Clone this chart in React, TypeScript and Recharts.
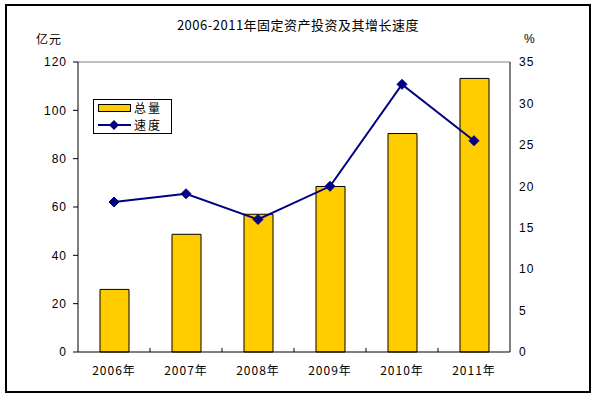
import React from 'react';
import { ComposedChart, Bar, Line, XAxis, YAxis, ReferenceLine } from 'recharts';

const years = ['2006年', '2007年', '2008年', '2009年', '2010年', '2011年'];
const totals = [25.9, 48.7, 57.0, 68.5, 90.4, 113.2];
const speeds = [18.1, 19.1, 16.0, 20.0, 32.3, 25.5];
const leftTicks = [0, 20, 40, 60, 80, 100, 120];
const rightTicks = [0, 5, 10, 15, 20, 25, 30, 35];

const data = years.map((y, i) => ({ year: y, total: totals[i], speed: speeds[i] }));

const FONT = '"Liberation Sans", Arial, "Noto Sans CJK SC", sans-serif';
const CJK = '"Noto Sans CJK SC", "Liberation Sans", sans-serif';

const Diamond = (props: any) => {
  const { cx, cy } = props;
  if (cx == null || cy == null) return null;
  const r = 5;
  return (
    <polygon
      points={`${cx},${cy - r} ${cx + r},${cy} ${cx},${cy + r} ${cx - r},${cy}`}
      fill="#000080"
      stroke="#000080"
    />
  );
};

const XTick = (props: any) => {
  const { x, y, payload, index } = props;
  return (
    <g>
      {index > 0 ? <line x1={x - 36} x2={x - 36} y1={348} y2={352} stroke="#000" /> : null}
      <text x={x} y={y} dy="0.71em" textAnchor="middle" fontSize={12} fontFamily={CJK} fill="#000" letterSpacing={1}>
        {payload.value}
      </text>
    </g>
  );
};

const Empty = () => <g />;

export default function App() {
  const tickStyle = { fontSize: 12, fill: '#000', fontFamily: FONT, letterSpacing: 1 };
  return (
    <div style={{ position: 'absolute', left: 0, top: 0, width: 598, height: 398, background: '#fff' }}>
      <div
        style={{
          position: 'absolute',
          left: 5,
          top: 4,
          width: 586,
          height: 389,
          border: '2px solid #000',
          boxSizing: 'border-box',
        }}
      />
      <ComposedChart
        width={598}
        height={398}
        data={data}
        margin={{ top: 62, right: 0, bottom: 0, left: 0 }}
        style={{ position: 'absolute', left: 0, top: 0 }}
      >
        <XAxis
          dataKey="year"
          height={46}
          tickSize={0}
          tickMargin={14}
          tick={<XTick />}
          axisLine={{ stroke: '#000', strokeWidth: 1 }}
        />
        <YAxis
          yAxisId="left"
          orientation="left"
          width={78}
          domain={[0, 120]}
          ticks={leftTicks}
          tickSize={5}
          tickMargin={6}
          tick={tickStyle}
          axisLine={{ stroke: '#000' }}
          tickLine={{ stroke: '#000' }}
        />
        <YAxis
          yAxisId="right"
          orientation="right"
          width={88}
          domain={[0, 35]}
          ticks={rightTicks}
          tickSize={0}
          tickMargin={9}
          tick={{ ...tickStyle, textAnchor: 'start' }}
          axisLine={{ stroke: '#000' }}
          tickLine={false}
        />
        <YAxis
          yAxisId="right2"
          orientation="right"
          mirror
          width={0}
          domain={[0, 35]}
          ticks={rightTicks}
          tickSize={5}
          tick={Empty}
          axisLine={false}
          tickLine={{ stroke: '#000' }}
        />
        <ReferenceLine yAxisId="left" y={120} stroke="#808080" />
        <Bar
          dataKey="total"
          yAxisId="left"
          fill="#FFCC00"
          stroke="#000"
          strokeWidth={1}
          barSize={29}
          isAnimationActive={false}
        />
        <Line
          dataKey="speed"
          yAxisId="right"
          stroke="#000080"
          strokeWidth={2}
          dot={<Diamond />}
          activeDot={false}
          isAnimationActive={false}
        />
      </ComposedChart>
      <div
        style={{
          position: 'absolute',
          left: 0,
          top: 16,
          width: 596,
          textAlign: 'center',
          fontFamily: CJK,
          fontSize: 13,
          letterSpacing: 0.5,
          lineHeight: '18px',
        }}
      >
        2006-2011年固定资产投资及其增长速度
      </div>
      <div style={{ position: 'absolute', left: 36, top: 30, fontFamily: CJK, fontSize: 12, letterSpacing: 1, lineHeight: '18px' }}>
        亿元
      </div>
      <div style={{ position: 'absolute', left: 524, top: 30, fontFamily: FONT, fontSize: 12, lineHeight: '18px' }}>
        %
      </div>
      <div
        style={{
          position: 'absolute',
          left: 93,
          top: 99,
          width: 79,
          height: 35,
          border: '1px solid #000',
          boxSizing: 'border-box',
          background: '#fff',
          fontFamily: CJK,
          fontSize: 12,
          letterSpacing: 2,
        }}
      >
        <div style={{ position: 'absolute', left: 4, top: 4, width: 31, height: 6, background: '#FFCC00', border: '1px solid #000' }} />
        <div style={{ position: 'absolute', left: 40, top: -1, lineHeight: '17px' }}>总量</div>
        <svg style={{ position: 'absolute', left: 4, top: 19 }} width={33} height={12}>
          <line x1={0} y1={6} x2={33} y2={6} stroke="#000080" strokeWidth={2} />
          <polygon points="16,1 21,6 16,11 11,6" fill="#000080" />
        </svg>
        <div style={{ position: 'absolute', left: 40, top: 16, lineHeight: '17px' }}>速度</div>
      </div>
    </div>
  );
}
